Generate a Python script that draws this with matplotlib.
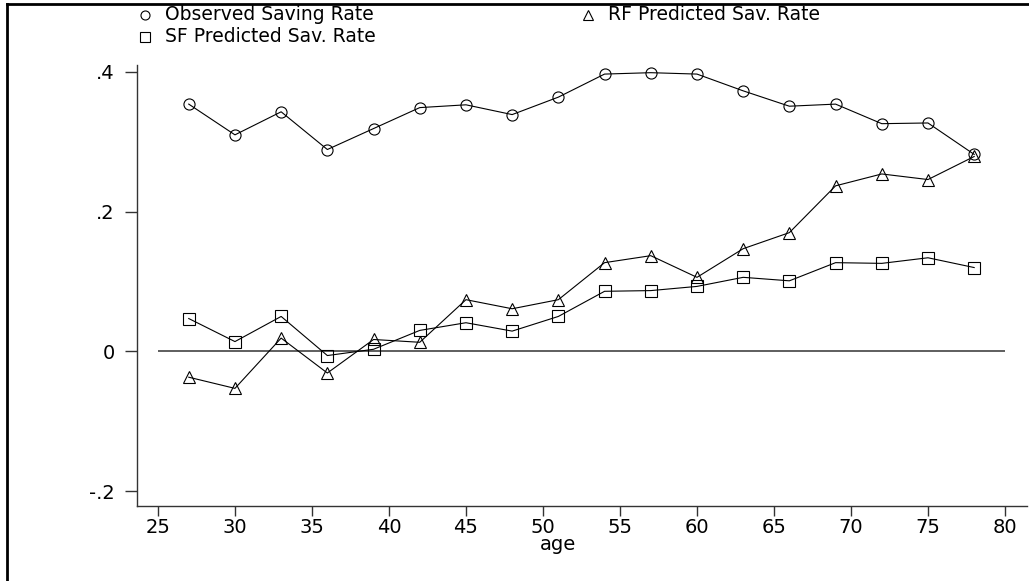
import matplotlib
matplotlib.use("Agg")
import matplotlib.pyplot as plt
from matplotlib.lines import Line2D

plt.rcParams['font.family'] = ['DejaVu Sans']

# data
ages = [27, 30, 33, 36, 39, 42, 45, 48, 51, 54, 57, 60, 63, 66, 69, 72, 75, 78]
observed = [0.354, 0.310, 0.343, 0.289, 0.319, 0.349, 0.353, 0.339, 0.364,
            0.397, 0.399, 0.397, 0.373, 0.351, 0.354, 0.326, 0.327, 0.282]
rf_pred = [-0.037, -0.053, 0.019, -0.031, 0.017, 0.013, 0.074, 0.061, 0.074,
           0.127, 0.137, 0.106, 0.147, 0.170, 0.237, 0.254, 0.246, 0.279]
sf_pred = [0.047, 0.014, 0.050, -0.006, 0.003, 0.030, 0.041, 0.029, 0.050,
           0.086, 0.087, 0.093, 0.106, 0.101, 0.127, 0.126, 0.134, 0.120]
xticks = [25, 30, 35, 40, 45, 50, 55, 60, 65, 70, 75, 80]
yticks = [-0.2, 0, 0.2, 0.4]
ytick_labels = ['-.2', '0', '.2', '.4']

W, H = 1029, 581
fig = plt.figure(figsize=(W / 100, H / 100), dpi=100)
ax = fig.add_axes([137 / W, 1 - 506 / H, (1027 - 137) / W, (506 - 65) / H])

ax.hlines(0, 25, 80, color='#333333', lw=1.1)

mk = dict(color='black', lw=0.8, mfc='none', mec='black', mew=0.8)
ax.plot(ages, observed, marker='o', ms=8, **mk)
ax.plot(ages, rf_pred, marker='^', ms=8.5, **mk)
ax.plot(ages, sf_pred, marker='s', ms=8, **mk)

ax.set_xlim(23.64, 81.43)
ax.set_ylim(-0.2214, 0.41)
ax.set_xticks(xticks)
ax.set_yticks(yticks)
ax.set_yticklabels(ytick_labels)
for s in ['top', 'right']:
    ax.spines[s].set_visible(False)
for s in ['left', 'bottom']:
    ax.spines[s].set_linewidth(1.0)
    ax.spines[s].set_color('#333333')
ax.tick_params(axis='y', length=9, width=1.0, pad=7, labelsize=14, color='#333333')
ax.tick_params(axis='x', length=7, width=1.0, pad=1.5, labelsize=14, color='#333333')

fig.text(558 / W, 1 - 545 / H, 'age', ha='center', va='center', fontsize=14)

# legend drawn by hand (Stata style)
legend_items = [('o', 'Observed Saving Rate', 145, 15),
                ('^', 'RF Predicted Sav. Rate', 588, 15),
                ('s', 'SF Predicted Sav. Rate', 145, 37)]
for m, label, px, py in legend_items:
    fig.add_artist(Line2D([px / W], [1 - py / H], marker=m, ms=6.5, mfc='none',
                          mec='black', mew=0.8, transform=fig.transFigure))
    fig.text((px + 20) / W, 1 - py / H, label, ha='left', va='center', fontsize=13.5)

# outer frame pieces (left and top)
fig.add_artist(Line2D([7 / W, 7 / W], [0, 1 - 4 / H], color='black', lw=2,
                      transform=fig.transFigure))
fig.add_artist(Line2D([7 / W, 1], [1 - 4 / H, 1 - 4 / H], color='black', lw=2,
                      transform=fig.transFigure))

fig.savefig('out.png', dpi=100)
